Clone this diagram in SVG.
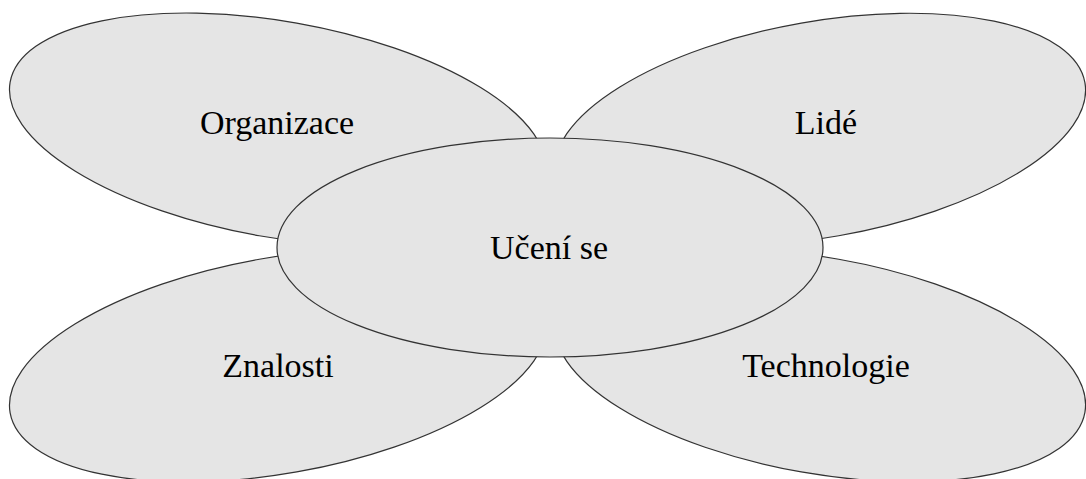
<svg xmlns="http://www.w3.org/2000/svg" width="1086" height="479" viewBox="0 0 1086 479">
<style>
.petal{fill:#e5e5e5;stroke:#333333;stroke-width:1.2}
.lbl{font-family:"Liberation Serif","Times New Roman",serif;font-size:34px;fill:#000;text-anchor:middle}
</style>
<rect width="1086" height="479" fill="#ffffff"/>
<g id="organizace">
<ellipse class="petal" cx="278" cy="129.4" rx="272" ry="108" transform="rotate(10 278 129.4)"/>
<text class="lbl" x="277" y="134">Organizace</text>
</g>
<g id="lide">
<ellipse class="petal" cx="820" cy="129.4" rx="269" ry="108" transform="rotate(-10 820 129.4)"/>
<text class="lbl" x="826" y="134">Lidé</text>
</g>
<g id="znalosti">
<ellipse class="petal" cx="278" cy="365.6" rx="272" ry="108" transform="rotate(-10 278 365.6)"/>
<text class="lbl" x="278" y="377">Znalosti</text>
</g>
<g id="technologie">
<ellipse class="petal" cx="820" cy="365.6" rx="269" ry="108" transform="rotate(10 820 365.6)"/>
<text class="lbl" x="826" y="377">Technologie</text>
</g>
<g id="uceni-se">
<ellipse class="petal" cx="550" cy="247.5" rx="273" ry="109.5"/>
<text class="lbl" x="549" y="259">Učení se</text>
</g>
<g id="connectors"/>
</svg>
